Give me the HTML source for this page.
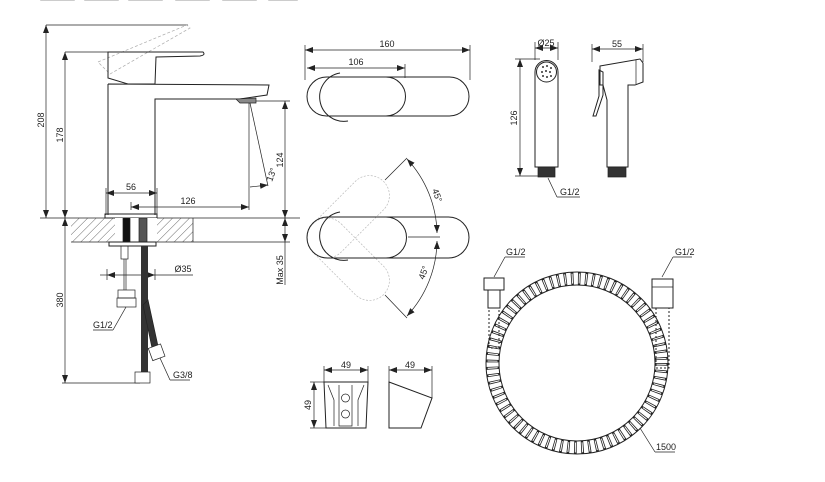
<!DOCTYPE html>
<html><head><meta charset="utf-8"><style>
html,body{margin:0;padding:0;background:#fff;}
svg{display:block;font-family:"Liberation Sans",sans-serif;}
text{font-size:9px;fill:#222;}
</style></head><body>
<svg width="825" height="482" viewBox="0 0 825 482" xmlns="http://www.w3.org/2000/svg">
<defs>
<pattern id="h" width="6" height="6" patternUnits="userSpaceOnUse" patternTransform="rotate(45)">
<line x1="0" y1="0" x2="0" y2="6" stroke="#444" stroke-width="0.8"/></pattern>
<marker id="a" markerWidth="8" markerHeight="6" refX="8" refY="3" orient="auto-start-reverse" markerUnits="userSpaceOnUse"><path d="M0,0 L8,3 L0,6 z" fill="#222"/></marker>
</defs>
<g fill="#ccc"><rect x="40" y="-1" width="35" height="2" rx="1"/><rect x="84" y="-1" width="35" height="2" rx="1"/><rect x="128" y="-1" width="35" height="2" rx="1"/><rect x="175" y="-1" width="35" height="2" rx="1"/><rect x="222" y="-1" width="35" height="2" rx="1"/><rect x="268" y="-1" width="30" height="2" rx="1"/></g>
<g stroke="#222" stroke-width="0.7" fill="none">
<line x1="46" y1="25" x2="188" y2="25"/>
<line x1="46" y1="25" x2="46" y2="218" marker-start="url(#a)" marker-end="url(#a)"/>
<line x1="65" y1="52" x2="108" y2="52"/>
<line x1="65" y1="52" x2="65" y2="218" marker-start="url(#a)" marker-end="url(#a)"/>
<line x1="40" y1="218" x2="300" y2="218"/>
<line x1="250" y1="101" x2="290" y2="101"/>
<line x1="285" y1="101" x2="285" y2="218" marker-start="url(#a)" marker-end="url(#a)"/>
<line x1="106" y1="188" x2="106" y2="215"/><line x1="157" y1="188" x2="157" y2="215"/>
<line x1="106" y1="193" x2="157" y2="193" marker-start="url(#a)" marker-end="url(#a)"/>
<line x1="131" y1="202" x2="131" y2="210"/>
<line x1="249" y1="103" x2="249" y2="210"/>
<line x1="131" y1="207" x2="249" y2="207" marker-start="url(#a)" marker-end="url(#a)"/>
<line x1="250" y1="103" x2="268" y2="186"/>
<line x1="250" y1="187" x2="268" y2="185" marker-end="url(#a)"/>
<line x1="193" y1="242" x2="290" y2="242"/>
<line x1="285" y1="218" x2="285" y2="242" marker-start="url(#a)" marker-end="url(#a)"/>
<line x1="285" y1="242" x2="285" y2="285"/>
<line x1="65" y1="218" x2="65" y2="383" marker-start="url(#a)" marker-end="url(#a)"/>
<line x1="62" y1="383" x2="140" y2="383"/>
<line x1="100" y1="275" x2="107" y2="275"/><line x1="107" y1="269" x2="107" y2="280"/>
<line x1="107" y1="275" x2="155" y2="275" marker-start="url(#a)" marker-end="url(#a)"/><line x1="155" y1="275" x2="193" y2="275"/>
<line x1="155" y1="269" x2="155" y2="280"/>
<path d="M98,62 L187,25 L190,28 L110,74 Z" stroke="#aaa" stroke-dasharray="3,2"/>
<path d="M108,52 L203,52 Q206,55 200,56 L156,57 L155,84 L128,84 L108,78 Z" stroke-width="1"/>
<path d="M108,84 L269,85 L267,95 L240,99 L155,99 L155,215 M108,84 L108,215" stroke-width="1"/>
<path d="M236,99 L256,98 L256,103 L240,103 Z" fill="#888"/>
<rect x="105" y="214" width="52" height="4" stroke-width="1"/>
<rect x="71" y="218" width="122" height="24" fill="url(#h)" stroke="none"/>
<rect x="115" y="218" width="42" height="24" fill="#fff" stroke="none"/>
<rect x="123" y="218" width="7" height="24" fill="#111"/>
<rect x="139" y="218" width="8" height="24" fill="#555"/>
<rect x="109" y="242" width="47" height="4" stroke-width="1"/>
<line x1="193" y1="218" x2="193" y2="242"/><line x1="71" y1="242" x2="193" y2="242"/>
<rect x="121" y="246" width="7" height="13"/><line x1="124" y1="259" x2="124" y2="290"/><line x1="126" y1="259" x2="126" y2="290"/>
<rect x="118" y="290" width="17" height="8"/><rect x="117" y="298" width="19" height="9"/>
<rect x="141" y="246" width="7" height="126" fill="#333" stroke="none"/>
<path d="M148,300 L158,346 L152,348 L143,305 Z" fill="#333"/>
<rect x="135" y="372" width="15" height="11" fill="#fff"/>
<rect x="150" y="346" width="13" height="13" fill="#fff" transform="rotate(-20 156 352)"/>
<line x1="126" y1="307" x2="113" y2="330"/><line x1="93" y1="330" x2="113" y2="330"/>
<line x1="160" y1="358" x2="170" y2="380"/><line x1="170" y1="380" x2="190" y2="380"/>
<line x1="305" y1="45" x2="305" y2="80"/><line x1="470" y1="45" x2="470" y2="80"/>
<line x1="305" y1="50" x2="470" y2="50" marker-start="url(#a)" marker-end="url(#a)"/>
<line x1="405" y1="64" x2="405" y2="78"/>
<line x1="307" y1="68" x2="405" y2="68" marker-start="url(#a)" marker-end="url(#a)"/>
<path d="M340,73 A24,24 0 1 0 348,121" stroke-width="1"/>
<rect x="307" y="77" width="162" height="39" rx="19.5" stroke-width="1"/>
<path d="M386,77 A19.5,19.5 0 0 1 386,116" stroke-width="1"/>
<g stroke="#bbb" stroke-dasharray="2,1.5">
<rect x="307" y="218" width="100" height="40" rx="20" transform="rotate(-45 327 238)"/>
<rect x="307" y="218" width="100" height="40" rx="20" transform="rotate(45 327 238)"/>
</g>
<path d="M340,212 A24,24 0 1 0 348,260" stroke-width="1"/>
<rect x="307" y="217" width="162" height="41" rx="20.5" stroke-width="1"/>
<path d="M386,217 A20.5,20.5 0 0 1 386,258" stroke-width="1"/>
<line x1="408" y1="237" x2="440" y2="237"/>
<path d="M407,159 A112,112 0 0 1 437,233" marker-start="url(#a)" marker-end="url(#a)"/>
<path d="M437,241 A112,112 0 0 1 407,316" marker-start="url(#a)" marker-end="url(#a)"/>
<line x1="385" y1="180" x2="407" y2="158"/><line x1="385" y1="295" x2="407" y2="318"/>
<line x1="535" y1="42" x2="535" y2="60"/><line x1="558" y1="42" x2="558" y2="60"/>
<line x1="535" y1="48" x2="558" y2="48" marker-start="url(#a)" marker-end="url(#a)"/>
<line x1="515" y1="59" x2="540" y2="59"/><line x1="515" y1="176" x2="538" y2="176"/>
<line x1="520" y1="59" x2="520" y2="176" marker-start="url(#a)" marker-end="url(#a)"/>
<path d="M535,72 A11.5,11.5 0 0 1 558,72 L558,167 L535,167 Z" stroke-width="1"/>
<circle cx="546.5" cy="72" r="10" stroke-width="1"/>
<g fill="#333" stroke="none"><circle cx="543" cy="67" r="1"/><circle cx="547" cy="66" r="1"/><circle cx="551" cy="68" r="1"/><circle cx="542" cy="72" r="1"/><circle cx="546" cy="71" r="1"/><circle cx="550" cy="72" r="1"/><circle cx="543" cy="76" r="1"/><circle cx="547" cy="77" r="1"/><circle cx="551" cy="76" r="1"/></g>
<rect x="538" y="167" width="17" height="10" fill="#333"/>
<line x1="548" y1="178" x2="557" y2="197"/><line x1="557" y1="197" x2="580" y2="197"/>
<line x1="592" y1="44" x2="592" y2="62"/><line x1="643" y1="44" x2="643" y2="62"/>
<line x1="592" y1="49" x2="643" y2="49" marker-start="url(#a)" marker-end="url(#a)"/>
<path d="M600,66 L640,59 L643,63 L643,82 L635,85 L628,85 L628,167 L607,167 L607,100 L603,85 L600,85 Z" stroke-width="1"/>
<line x1="636" y1="60" x2="636" y2="84"/>
<path d="M599,70 L603,72 L603,95 L596,116 L593,116 L599,96 Z" stroke-width="1"/>
<rect x="608" y="167" width="18" height="10" fill="#333"/>
<line x1="324" y1="366" x2="324" y2="382"/><line x1="368" y1="366" x2="368" y2="382"/>
<line x1="324" y1="370" x2="368" y2="370" marker-start="url(#a)" marker-end="url(#a)"/>
<line x1="310" y1="382" x2="326" y2="382"/><line x1="310" y1="428" x2="326" y2="428"/>
<line x1="314" y1="382" x2="314" y2="428" marker-start="url(#a)" marker-end="url(#a)"/>
<path d="M324,382 L368,382 L366,428 L326,428 Z" stroke-width="1"/>
<path d="M328,385 L334,400 L334,426 M364,385 L358,400 L358,426 M339,385 L339,426 L352,426 L352,385"/>
<circle cx="345.5" cy="398" r="4"/><circle cx="345.5" cy="414" r="4"/>
<line x1="389" y1="366" x2="389" y2="382"/><line x1="432" y1="366" x2="432" y2="398"/>
<line x1="389" y1="370" x2="432" y2="370" marker-start="url(#a)" marker-end="url(#a)"/>
<path d="M389,382 L432,398 L421,428 L389,428 Z" stroke-width="1"/>
<circle cx="577" cy="363" r="84.5" stroke="#222" stroke-width="13" stroke-dasharray="2.6,4.4"/>
<circle cx="577" cy="363" r="84.5" stroke="#fff" stroke-width="10" stroke-dasharray="1,6" stroke-dashoffset="-0.8"/>
<circle cx="577" cy="363" r="91" stroke-width="1"/><circle cx="577" cy="363" r="78" stroke-width="1"/>
<rect x="484" y="278" width="20" height="12" stroke-width="1"/>
<rect x="488" y="290" width="12" height="18" stroke-width="1"/>
<rect x="489" y="308" width="10" height="40" stroke="#222" stroke-width="1" stroke-dasharray="2,2"/>
<rect x="652" y="279" width="21" height="29" stroke-width="1"/><line x1="652" y1="287" x2="673" y2="287"/>
<rect x="656" y="308" width="13" height="60" stroke="#222" stroke-width="1" stroke-dasharray="2,2"/>
<line x1="494" y1="277" x2="505" y2="257"/><line x1="505" y1="257" x2="525" y2="257"/>
<line x1="662" y1="277" x2="673" y2="257"/><line x1="673" y1="257" x2="692" y2="257"/>
<line x1="640" y1="428" x2="655" y2="452"/><line x1="655" y1="452" x2="675" y2="452"/>
</g>
<g>
<text x="44" y="120" transform="rotate(-90 44 120)" text-anchor="middle">208</text>
<text x="63" y="135" transform="rotate(-90 63 135)" text-anchor="middle">178</text>
<text x="283" y="160" transform="rotate(-90 283 160)" text-anchor="middle">124</text>
<text x="272" y="182" transform="rotate(-70 272 182)">13°</text>
<text x="131" y="190" text-anchor="middle">56</text>
<text x="188" y="204" text-anchor="middle">126</text>
<text x="283" y="270" transform="rotate(-90 283 270)" text-anchor="middle">Max 35</text>
<text x="63" y="300" transform="rotate(-90 63 300)" text-anchor="middle">380</text>
<text x="183" y="272" text-anchor="middle">Ø35</text>
<text x="93" y="328">G1/2</text>
<text x="173" y="378">G3/8</text>
<text x="387" y="47" text-anchor="middle">160</text>
<text x="356" y="65" text-anchor="middle">106</text>
<text x="432" y="190" transform="rotate(70 432 190)">45°</text>
<text x="424" y="280" transform="rotate(-70 424 280)">45°</text>
<text x="546" y="46" text-anchor="middle">Ø25</text>
<text x="617" y="47" text-anchor="middle">55</text>
<text x="517" y="118" transform="rotate(-90 517 118)" text-anchor="middle">126</text>
<text x="560" y="195">G1/2</text>
<text x="346" y="368" text-anchor="middle">49</text>
<text x="410" y="368" text-anchor="middle">49</text>
<text x="311" y="405" transform="rotate(-90 311 405)" text-anchor="middle">49</text>
<text x="506" y="255">G1/2</text>
<text x="675" y="255">G1/2</text>
<text x="656" y="450">1500</text>
</g>
</svg>
</body></html>
